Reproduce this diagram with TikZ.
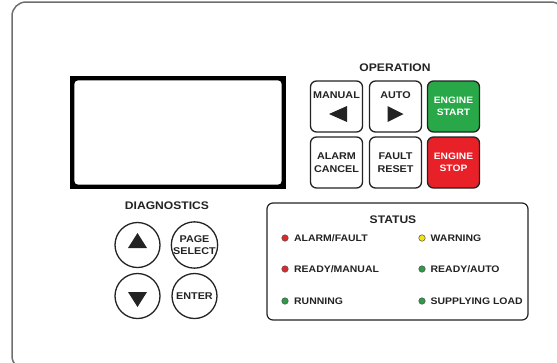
\documentclass[tikz,border=0pt]{standalone}
\usepackage{fontspec}
\setmainfont{Liberation Sans}[FakeStretch=1.1]
\usepackage{tikz}
\usetikzlibrary{calc, positioning}
\definecolor{startgreen}{RGB}{40,168,72}
\definecolor{stopred}{RGB}{232,32,40}
\definecolor{ledred}{RGB}{222,40,44}
\definecolor{ledyellow}{RGB}{240,228,20}
\definecolor{ledgreen}{RGB}{44,156,70}
\definecolor{panelgray}{RGB}{110,110,110}
\definecolor{ink}{RGB}{35,35,35}

\tikzset{
  opbtn/.style={draw=ink, line width=1.3pt, rounded corners=6pt, minimum width=52pt, minimum height=51pt, fill=white},
  diagbtn/.style={draw=ink, line width=1.3pt, circle, minimum size=45pt, inner sep=0pt, align=center, text=ink, font=\bfseries\fontsize{9.8}{11.5}\selectfont},
  btntext/.style={align=center, text=ink, font=\bfseries\fontsize{9.8}{12.8}\selectfont},
  enginetext/.style={align=center, text=white, font=\bfseries\fontsize{9.3}{12}\selectfont},
  head/.style={text=ink, font=\bfseries\fontsize{11}{13}\selectfont},
  led/.style={circle, draw=ink!80, line width=0.5pt, minimum size=6.5pt, inner sep=0pt},
  ledtext/.style={anchor=west, inner sep=0pt, text=ink, font=\bfseries\fontsize{9.5}{11}\selectfont}
}

\begin{document}
\begin{tikzpicture}[x=1pt, y=-1pt]
  \useasboundingbox (0,0) rectangle (557,362);
  \clip (0,0) rectangle (557,362);

  % panel
  \draw[panelgray, line width=1.5pt, rounded corners=14pt] (12,2) rectangle (565,370);

  % display
  \node[fill=black, minimum width=216pt, minimum height=113pt, inner sep=0pt] (display) at (178,132.5) {};
  \fill[white, rounded corners=4pt] ($(display.north west)+(4.5,4.5)$) rectangle ($(display.south east)+(-4.5,-4.5)$);

  % operation keys
  \node[head] (ophead) at (395,68) {OPERATION};
  \node[opbtn] (manual) at (336.5,106.5) {};
  \node[opbtn] (auto) at (395.5,106.5) {};
  \node[opbtn, fill=startgreen] (start) at (453.5,106.5) {};
  \node[opbtn] (alarm) at (336.5,162.5) {};
  \node[opbtn] (fault) at (395.5,162.5) {};
  \node[opbtn, fill=stopred] (stop) at (453.5,162.5) {};

  \node[btntext] (manualtxt) at (336.5,95) {MANUAL};
  \fill[ink] ($(manual.center)+(10.5,-0.5)$) -- ($(manual.center)+(10.5,15.5)$) -- ($(manual.center)+(-7.5,7.5)$) -- cycle;
  \node[btntext] (autotxt) at (395.5,95) {AUTO};
  \fill[ink] ($(auto.center)+(-8,-0.5)$) -- ($(auto.center)+(-8,15.5)$) -- ($(auto.center)+(8,7.5)$) -- cycle;
  \node[enginetext] (starttxt) at (start.center) {ENGINE\\START};
  \node[btntext] (alarmtxt) at (alarm.center) {ALARM\\CANCEL};
  \node[btntext] (faulttxt) at (fault.center) {FAULT\\RESET};
  \node[enginetext] (stoptxt) at (stop.center) {ENGINE\\STOP};

  % diagnostics keys
  \node[head] (diaghead) at (167,206) {DIAGNOSTICS};
  \node[diagbtn] (up) at (137.5,245) {};
  \node[diagbtn] (page) at (194.5,245) {PAGE\\SELECT};
  \node[diagbtn] (down) at (137.5,296) {};
  \node[diagbtn] (enter) at (194.5,296) {ENTER};
  \fill[ink] ($(up.center)+(-9.5,3)$) -- ($(up.center)+(9.5,3)$) -- ($(up.center)+(0,-12)$) -- cycle;
  \fill[ink] ($(down.center)+(-9.5,-4)$) -- ($(down.center)+(9.5,-4)$) -- ($(down.center)+(0,11)$) -- cycle;

  % status lamps
  \node[draw=ink, line width=1.2pt, rounded corners=6pt, minimum width=261pt, minimum height=117pt] (status) at (397.5,261.5) {};
  \node[head] (stathead) at (393,220) {STATUS};
  \node[led, fill=ledred] (alarmled) at (285,238) {};
  \node[ledtext] (alarmlbl) at (294,238) {ALARM/FAULT};
  \node[led, fill=ledyellow] (warnled) at (422,238) {};
  \node[ledtext] (warnlbl) at (430.5,238) {WARNING};
  \node[led, fill=ledred] (manled) at (285,269) {};
  \node[ledtext] (manlbl) at (294,269) {READY/MANUAL};
  \node[led, fill=ledgreen] (autoled) at (422,269) {};
  \node[ledtext] (autolbl) at (430.5,269) {READY/AUTO};
  \node[led, fill=ledgreen] (runled) at (285,301) {};
  \node[ledtext] (runlbl) at (294,301) {RUNNING};
  \node[led, fill=ledgreen] (loadled) at (422,301) {};
  \node[ledtext] (loadlbl) at (430.5,301) {SUPPLYING LOAD};
\end{tikzpicture}
\end{document}
